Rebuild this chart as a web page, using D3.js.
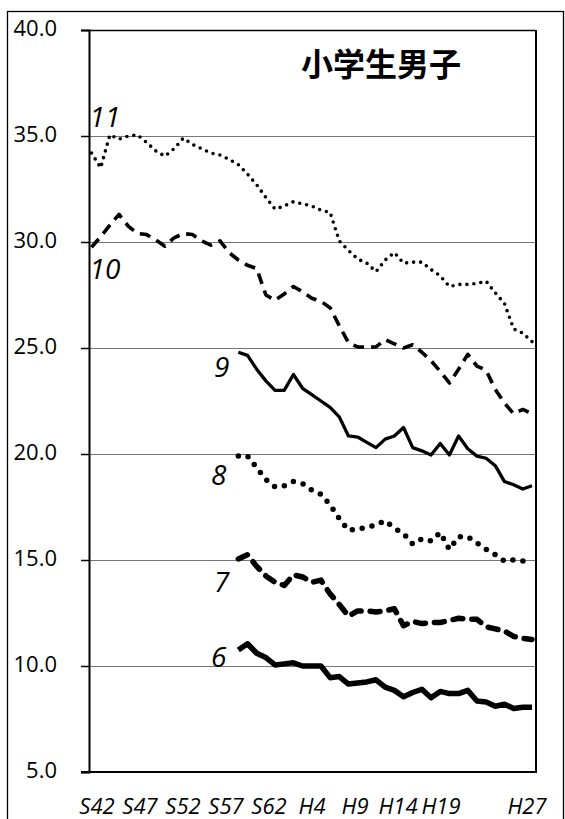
<!DOCTYPE html>
<html><head><meta charset="utf-8">
<script src="https://cdn.jsdelivr.net/npm/d3@7/dist/d3.min.js"></script>
<style>body{margin:0;background:#fff}svg{display:block}</style>
</head><body>
<svg id="c" width="565" height="819"></svg>
<script>
// ---- data ----
const yearsAll = [1967,1968,1969,1970,1971,1972,1973,1974,1975,1976,1977,1978,1979,1980,1981,1982,1983,1984,1985,1986,1987,1988,1989,1990,1991,1992,1993,1994,1995,1996,1997,1998,1999,2000,2001,2002,2003,2004,2005,2006,2007,2008,2009,2010,2011,2012,2013,2014,2015];
const yearsLate = [1983,1984,1985,1986,1987,1988,1989,1990,1991,1992,1993,1994,1995,1996,1997,1998,1999,2000,2001,2002,2003,2004,2005,2006,2007,2008,2009,2010,2011,2012,2013,2014,2015];
const age11 = [34.2,33.5,35.05,34.85,35.0,35.05,34.7,34.3,34.05,34.4,34.9,34.6,34.4,34.2,34.1,33.9,33.65,33.2,32.7,32.1,31.55,31.7,31.9,31.8,31.7,31.5,31.4,30.05,29.6,29.2,29.0,28.6,29.15,29.5,29.0,29.05,29.05,28.7,28.4,27.9,28.0,28.0,28.05,28.15,27.6,27.1,25.9,25.7,25.3];
const age10 = [29.75,30.25,30.8,31.3,30.75,30.4,30.35,30.1,29.8,30.2,30.4,30.35,30.05,29.85,30.05,29.5,29.15,28.9,28.75,27.5,27.25,27.55,27.9,27.65,27.35,27.2,26.9,26.05,25.25,25.05,25.05,25.05,25.4,25.2,25.0,25.15,24.8,24.4,23.9,23.35,24.0,24.7,24.15,23.95,23.05,22.4,21.9,22.1,21.9];
const age9 = [24.8,24.65,24.0,23.45,23.0,23.0,23.75,23.1,22.8,22.5,22.2,21.75,20.85,20.8,20.55,20.3,20.7,20.85,21.25,20.3,20.15,19.95,20.5,19.95,20.85,20.25,19.9,19.8,19.45,18.7,18.55,18.35,18.5];
const age8 = [19.9,19.9,19.35,18.8,18.45,18.5,18.7,18.6,18.3,18.1,17.6,16.95,16.4,16.45,16.55,16.65,16.85,16.5,16.25,15.75,16.0,15.9,16.3,15.5,16.1,16.1,15.8,15.5,15.25,14.95,15.0,14.95,14.95];
const age7 = [15.05,15.25,14.7,14.25,13.95,13.8,14.3,14.2,13.95,14.05,13.4,12.9,12.35,12.6,12.6,12.55,12.6,12.7,11.9,12.1,12.0,12.05,12.05,12.15,12.25,12.2,12.2,11.85,11.75,11.65,11.4,11.3,11.25];
const age6 = [10.75,11.05,10.6,10.4,10.05,10.1,10.15,10.0,10.0,10.0,9.45,9.5,9.15,9.2,9.25,9.35,9.0,8.85,8.55,8.75,8.9,8.5,8.8,8.7,8.7,8.85,8.35,8.3,8.1,8.2,8.0,8.05,8.05];
const seriesNames = ["11","10","9","8","7","6"];
const xLabels = ["S42","S47","S52","S57","S62","H4","H9","H14","H19","","H27"];
const yTicks = [5,10,15,20,25,30,35,40];
const title = "小学生男子";

// ---- layout ----
const L = 89, R = 536, T = 30, B = 772;
const svg = d3.select("#c");
const x = d3.scaleLinear().domain([1967, 2015]).range([91.5, 532]);
const y = d3.scaleLinear().domain([5, 40]).range([B, T]);
const xl = d3.scalePoint().domain(xLabels.map((d,i)=>i)).range([97, 527]);

// outer frame
svg.append("rect").attr("x",7.5).attr("y",11.5).attr("width",556).attr("height",830)
  .attr("fill","none").attr("stroke","#000").attr("stroke-width",1.3);

// gridlines
svg.append("g").selectAll("line").data(yTicks.filter(v=>v>5 && v<40)).join("line")
  .attr("x1",L).attr("x2",R).attr("y1",d=>Math.round(y(d))+0.5).attr("y2",d=>Math.round(y(d))+0.5)
  .attr("stroke","#777").attr("stroke-width",1.2);

// plot frame top/right
svg.append("line").attr("x1",L).attr("x2",R).attr("y1",T+0.5).attr("y2",T+0.5).attr("stroke","#000").attr("stroke-width",1.5);
svg.append("line").attr("x1",R).attr("x2",R).attr("y1",T).attr("y2",B).attr("stroke","#000").attr("stroke-width",2);

// y axis
const yAxis = d3.axisLeft(y).tickValues(yTicks).tickSize(8).tickPadding(24).tickFormat(d3.format(".1f"));
const ga = svg.append("g").attr("transform",`translate(${L},0)`).call(yAxis);
ga.select(".domain").attr("stroke","#000").attr("stroke-width",2);
ga.selectAll(".tick line").attr("stroke","#000").attr("stroke-width",1.5);
ga.selectAll(".tick text").attr("font-family","'Open Sans', sans-serif").attr("font-size",22).attr("fill","#000").attr("dy","0.25em");

// x axis baseline
svg.append("line").attr("x1",L-8).attr("x2",R+1).attr("y1",B).attr("y2",B).attr("stroke","#000").attr("stroke-width",2);

// x labels
svg.append("g").selectAll("text").data(xLabels).join("text")
  .attr("x",(d,i)=>xl(i)).attr("y",814).attr("text-anchor","middle")
  .attr("font-family","'Open Sans', sans-serif").attr("font-style","italic").attr("font-size",22)
  .text(d=>d);

// series
const series = [
  {name:seriesNames[0], years:yearsAll, vals:age11, w:3.6, dash:"0 7", cap:"round"},
  {name:seriesNames[1], years:yearsAll, vals:age10, w:3.6, dash:"11 7", cap:"butt"},
  {name:seriesNames[2], years:yearsLate, vals:age9, w:3.3, dash:null, cap:"butt"},
  {name:seriesNames[3], years:yearsLate, vals:age8, w:5.5, dash:"0 10", cap:"round"},
  {name:seriesNames[4], years:yearsLate, vals:age7, w:5.5, dash:"10 9", cap:"round"},
  {name:seriesNames[5], years:yearsLate, vals:age6, w:5.5, dash:null, cap:"butt"}
];
const line = d3.line().x(d=>x(d[0])).y(d=>y(d[1]));
svg.append("g").selectAll("path").data(series).join("path")
  .attr("d",s=>line(s.years.map((yr,i)=>[yr,s.vals[i]])))
  .attr("fill","none").attr("stroke","#000")
  .attr("stroke-width",s=>s.w).attr("stroke-dasharray",s=>s.dash)
  .attr("stroke-linecap",s=>s.cap).attr("stroke-linejoin","round");

// series labels (offsets from first point)
const labelOff = [[-2,-26,"start"],[-2,32,"start"],[-9,25,"end"],[-12,29,"end"],[-9,33,"end"],[-12,17,"end"]];
svg.append("g").selectAll("text").data(series).join("text")
  .attr("x",(s,i)=>x(s.years[0])+labelOff[i][0])
  .attr("y",(s,i)=>y(s.vals[0])+labelOff[i][1])
  .attr("text-anchor",(s,i)=>labelOff[i][2])
  .attr("font-family","'Open Sans', sans-serif").attr("font-style","italic").attr("font-size",28)
  .text(s=>s.name);

// title
svg.append("text").attr("x",381).attr("y",76).attr("text-anchor","middle")
  .attr("font-family","'Noto Sans CJK JP', sans-serif").attr("font-weight","bold").attr("font-size",32)
  .text(title);
</script>
</body></html>
